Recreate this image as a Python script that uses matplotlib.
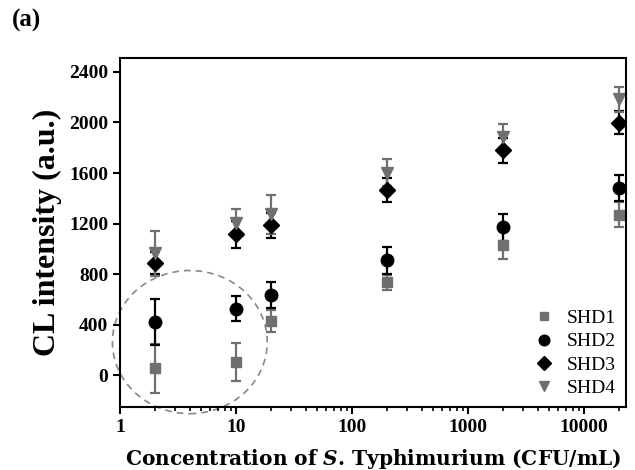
import numpy as np
import matplotlib
matplotlib.use("Agg")
import matplotlib.pyplot as plt
from matplotlib.patches import Ellipse
from matplotlib.ticker import LogLocator, FixedLocator, NullFormatter

plt.rcParams["mathtext.fontset"] = "dejavuserif"

conc = [2, 10, 20, 200, 2000, 20000]

shd1 = [55, 105, 430, 735, 1030, 1270]
shd1_err = [195, 150, 87, 60, 110, 98]
shd2 = [422, 528, 635, 910, 1170, 1482]
shd2_err = [185, 100, 105, 105, 105, 106]
shd3 = [890, 1115, 1188, 1465, 1780, 1998]
shd3_err = [85, 105, 98, 93, 100, 92]
shd4 = [965, 1206, 1275, 1602, 1887, 2183]
shd4_err = [180, 106, 155, 108, 105, 100]

series = [
    ("SHD1", shd1, shd1_err, "s", "#6f6f6f", 7),
    ("SHD2", shd2, shd2_err, "o", "black", 9),
    ("SHD3", shd3, shd3_err, "D", "black", 8),
    ("SHD4", shd4, shd4_err, "v", "#6f6f6f", 9),
]

y_ticks = [0, 400, 800, 1200, 1600, 2000, 2400]
x_ticks = [1, 10, 100, 1000, 10000]
x_labels = ["1", "10", "100", "1000", "10000"]

serif = "Liberation Serif"

fig = plt.figure(figsize=(6.35, 4.7), dpi=100)
ax = fig.add_axes([120 / 635, 63 / 470, 506 / 635, 349 / 470])

for name, vals, err, mk, col, ms in series:
    ax.errorbar(conc, vals, yerr=err, fmt=mk, color=col, ecolor=col,
                markersize=ms, elinewidth=1.6, capsize=3.5, capthick=1.6,
                label=name)

ax.set_xscale("log")
ax.set_xlim(1, 23000)
ax.set_ylim(-250, 2510)

ax.xaxis.set_major_locator(FixedLocator(x_ticks))
ax.set_xticklabels(x_labels)
ax.xaxis.set_minor_locator(LogLocator(base=10, subs=np.arange(2, 10)))
ax.xaxis.set_minor_formatter(NullFormatter())
ax.set_yticks(y_ticks)

ax.tick_params(axis="both", which="major", direction="out", length=5,
               width=1.5, labelsize=14)
ax.tick_params(axis="x", which="minor", direction="out", length=3, width=1.2)
for lab in ax.get_xticklabels() + ax.get_yticklabels():
    lab.set_fontfamily(serif)
    lab.set_fontweight("bold")
for sp in ax.spines.values():
    sp.set_linewidth(1.5)

ax.set_ylabel("CL intensity (a.u.)", fontsize=23, fontweight="bold",
              fontfamily=serif, labelpad=5)
ax.set_xlabel(r"Concentration of $\mathbfit{S}$. Typhimurium (CFU/mL)",
              fontsize=14.5, fontweight="bold", fontfamily="DejaVu Serif",
              labelpad=8)

# dashed circle around the low-concentration points
ax.add_patch(Ellipse((0.138, 0.186), 0.306, 0.41, transform=ax.transAxes,
                     fill=False, edgecolor="#888888", linestyle=(0, (4, 3)),
                     linewidth=1.2, clip_on=False))

handles, labels = ax.get_legend_handles_labels()
handles = [h[0] for h in handles]
ax.legend(handles, labels, loc="lower right", frameon=False,
          prop={"family": serif, "size": 14}, handletextpad=0.6,
          labelspacing=0.3, borderaxespad=0.1, handlelength=1.2,
          markerscale=0.85)

fig.text(12 / 635, 1 - 20 / 470, "(a)", fontsize=18, fontweight="bold",
         fontfamily=serif, va="center")

fig.savefig("out.png", dpi=100, facecolor="white")
